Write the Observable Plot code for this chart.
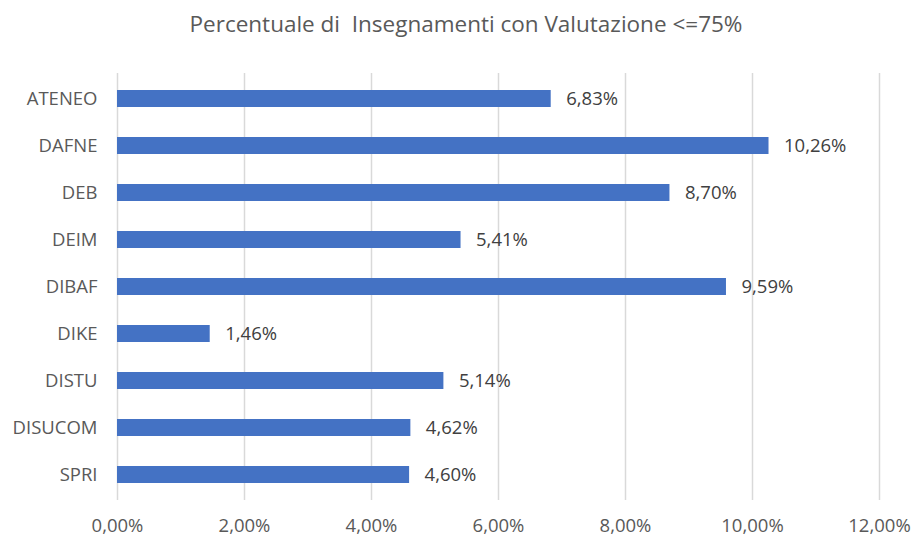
<!DOCTYPE html>
<html>
<head>
<meta charset="utf-8">
<script src="https://cdn.jsdelivr.net/npm/d3@7"></script>
<script src="https://cdn.jsdelivr.net/npm/@observablehq/plot@0.6"></script>
<style>
  html, body { margin: 0; padding: 0; background: #fff; }
  #wrap { position: relative; width: 914px; height: 538px; font-family: "Open Sans", sans-serif; }
  #title { position: absolute; left: 0; width: 914px; top: 10px; text-align: center; padding-left: 18px; box-sizing: border-box;
           font-size: 22.5px; color: #595959; white-space: pre; line-height: 1.2; }
  #chart { position: absolute; left: 0; top: 0; }
</style>
</head>
<body>
<div id="wrap">
  <div id="title">Percentuale di  Insegnamenti con Valutazione &lt;=75%</div>
  <div id="chart"></div>
</div>
<script>
const categories = ["ATENEO", "DAFNE", "DEB", "DEIM", "DIBAF", "DIKE", "DISTU", "DISUCOM", "SPRI"];
const values = [6.83, 10.26, 8.70, 5.41, 9.59, 1.46, 5.14, 4.62, 4.60];
const xTicks = [0, 2, 4, 6, 8, 10, 12];

const itLocale = d3.formatLocale({decimal: ",", thousands: ".", grouping: [3], currency: ["", " €"]});
const fmt = itLocale.format(".2f");
const pct = v => fmt(v) + "%";

const data = categories.map((c, i) => ({cat: c, val: values[i]}));

const chart = Plot.plot({
  width: 914,
  height: 538,
  marginTop: 73,
  marginBottom: 38,
  marginLeft: 117,
  marginRight: 35,
  style: {fontFamily: "'Open Sans', sans-serif", fontSize: "18.5px", color: "#595959", background: "transparent"},
  x: {domain: [0, 12], ticks: xTicks, tickFormat: pct, label: null, tickSize: 0, tickPadding: 18},
  y: {domain: categories, label: null, tickSize: 0, tickPadding: 20, paddingInner: 0.64, paddingOuter: 0.32},
  marks: [
    Plot.ruleX(xTicks, {stroke: "#d9d9d9", strokeWidth: 1.5, strokeOpacity: 1}),
    Plot.barX(data, {x: "val", y: "cat", fill: "#4472c4"}),
    Plot.text(data, {x: "val", y: "cat", text: d => pct(d.val), textAnchor: "start", dx: 15, fill: "#404040", fontSize: 18.5})
  ]
});
document.getElementById("chart").appendChild(chart);
</script>
</body>
</html>
